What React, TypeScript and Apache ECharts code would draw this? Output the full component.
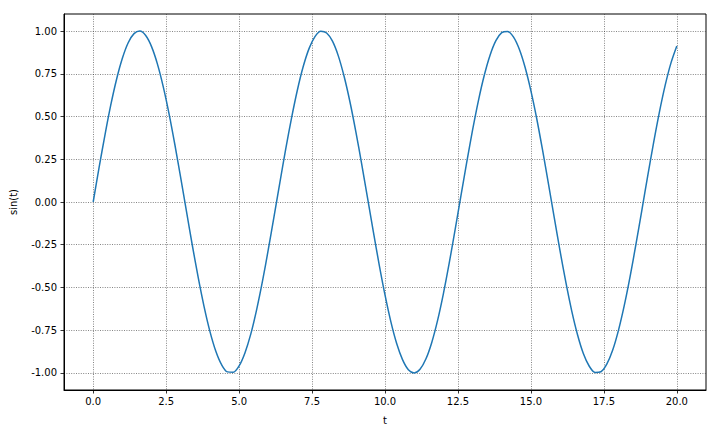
import React, { useEffect, useRef } from "react";
import * as echarts from "echarts";

const tValues: number[] = [
  0, 0.2, 0.4, 0.6, 0.8, 1, 1.2, 1.4, 1.6, 1.8, 2, 2.2, 2.4, 2.6, 2.8, 3, 3.2, 3.4, 3.6, 3.8,
  4, 4.2, 4.4, 4.6, 4.8, 5, 5.2, 5.4, 5.6, 5.8, 6, 6.2, 6.4, 6.6, 6.8, 7, 7.2, 7.4, 7.6, 7.8,
  8, 8.2, 8.4, 8.6, 8.8, 9, 9.2, 9.4, 9.6, 9.8, 10, 10.2, 10.4, 10.6, 10.8, 11, 11.2, 11.4, 11.6, 11.8,
  12, 12.2, 12.4, 12.6, 12.8, 13, 13.2, 13.4, 13.6, 13.8, 14, 14.2, 14.4, 14.6, 14.8, 15, 15.2, 15.4, 15.6, 15.8,
  16, 16.2, 16.4, 16.6, 16.8, 17, 17.2, 17.4, 17.6, 17.8, 18, 18.2, 18.4, 18.6, 18.8, 19, 19.2, 19.4, 19.6, 19.8,
  20,
];

const sinValues: number[] = [
  0.0, 0.199, 0.389, 0.565, 0.717, 0.841, 0.932, 0.985, 1.0, 0.974, 0.909, 0.808, 0.675, 0.516, 0.335, 0.141, -0.058, -0.256, -0.443, -0.612,
  -0.757, -0.872, -0.952, -0.994, -0.996, -0.959, -0.883, -0.773, -0.631, -0.465, -0.279, -0.083, 0.117, 0.312, 0.494, 0.657, 0.794, 0.899, 0.968, 0.999,
  0.989, 0.941, 0.855, 0.734, 0.585, 0.412, 0.223, 0.025, -0.174, -0.366, -0.544, -0.7, -0.828, -0.922, -0.981, -1.0, -0.979, -0.919, -0.823, -0.694,
  -0.537, -0.358, -0.165, 0.034, 0.232, 0.42, 0.592, 0.74, 0.859, 0.944, 0.991, 0.998, 0.966, 0.895, 0.788, 0.65, 0.487, 0.303, 0.108, -0.092,
  -0.288, -0.472, -0.638, -0.778, -0.888, -0.961, -0.997, -0.993, -0.949, -0.868, -0.751, -0.605, -0.435, -0.247, -0.05, 0.15, 0.343, 0.523, 0.682, 0.814,
  0.913,
];

const xTicks: number[] = [0, 2.5, 5, 7.5, 10, 12.5, 15, 17.5, 20];
const yTicks: number[] = [-1, -0.75, -0.5, -0.25, 0, 0.25, 0.5, 0.75, 1];

const FONT = "DejaVu Sans";

export default function App() {
  const ref = useRef<HTMLDivElement>(null);
  useEffect(() => {
    if (!ref.current) return;
    const chart = echarts.init(ref.current, undefined, { renderer: "svg" });
    const data = tValues.map((t, i) => [t, sinValues[i]]);
    const gridLine = { show: true, lineStyle: { color: "#333", width: 0.6, type: [1, 1.4] as any } };
    chart.setOption({
      animation: false,
      backgroundColor: "#fff",
      grid: {
        left: 62,
        right: 14,
        top: 14,
        bottom: 42,
        show: true,
        borderColor: "#000",
        borderWidth: 1,
        containLabel: false,
      },
      xAxis: {
        type: "value",
        min: -1,
        max: 21,
        name: "t",
        nameLocation: "middle",
        nameGap: 25,
        nameTextStyle: { fontFamily: FONT, fontSize: 10, color: "#000" },
        axisLine: { show: true, onZero: false, lineStyle: { color: "#000", width: 1 } },
        axisTick: { show: true, inside: false, length: 3.5, customValues: xTicks, lineStyle: { color: "#000", width: 0.8 } },
        axisLabel: {
          customValues: xTicks,
          margin: 6,
          fontFamily: FONT,
          fontSize: 10,
          color: "#000",
          formatter: (v: number) => v.toFixed(1),
        },
        splitLine: gridLine,
      },
      yAxis: {
        type: "value",
        min: -1.1,
        max: 1.1,
        name: "sin(t)",
        nameLocation: "middle",
        nameGap: 46,
        nameTextStyle: { fontFamily: FONT, fontSize: 10, color: "#000" },
        axisLine: { show: true, onZero: false, lineStyle: { color: "#000", width: 1 } },
        axisTick: { show: true, inside: false, length: 3.5, customValues: yTicks, lineStyle: { color: "#000", width: 0.8 } },
        axisLabel: {
          customValues: yTicks,
          margin: 7,
          fontFamily: FONT,
          fontSize: 10,
          color: "#000",
          formatter: (v: number) => v.toFixed(2),
        },
        splitLine: gridLine,
      },
      series: [
        {
          type: "line",
          data,
          smooth: 0.3,
          showSymbol: false,
          lineStyle: { color: "#1f77b4", width: 1.5, join: "round" },
        },
      ],
    });
    return () => chart.dispose();
  }, []);
  return (
    <div
      ref={ref}
      style={{ position: "fixed", left: 0, top: 0, width: 720, height: 432, background: "#fff" }}
    />
  );
}
